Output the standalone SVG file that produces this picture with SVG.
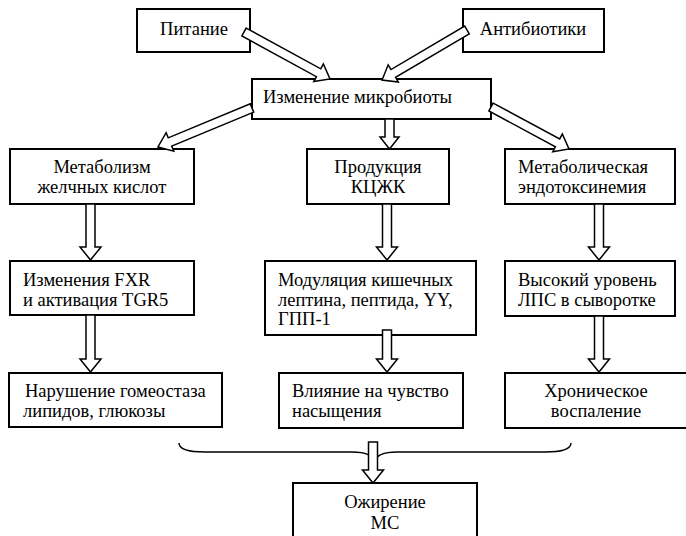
<svg xmlns="http://www.w3.org/2000/svg" width="686" height="536" viewBox="0 0 686 536">
<style>
.box{fill:#fff;stroke:#000;stroke-width:2}
.arr{fill:#fff;stroke:#000;stroke-width:1.5;stroke-linejoin:miter}
.brace{fill:none;stroke:#000;stroke-width:1.5}
.t{font-family:'Times New Roman','Liberation Serif','DejaVu Serif',serif;font-size:18.5px;fill:#000}
.c{text-anchor:middle}
</style>
<rect width="686" height="536" fill="#fff"/>
<g class="t" font-family="'Times New Roman','Liberation Serif','DejaVu Serif',serif">
<g id="n-pitanie"><rect class="box" x="137" y="9" width="113" height="43"/><text class="c" x="194" y="35">Питание</text></g>
<g id="n-antibiotiki"><rect class="box" x="463" y="9" width="141" height="43"/><text class="c" x="533" y="35">Антибиотики</text></g>
<g id="n-microbiota"><rect class="box" x="252" y="79" width="239" height="40"/><text x="263" y="103">Изменение микробиоты</text></g>

<g id="n-bile"><rect class="box" x="10" y="149" width="184" height="55"/><text class="c" x="102" y="173">Метаболизм</text><text class="c" x="102" y="193">желчных кислот</text></g>
<g id="n-scfa"><rect class="box" x="307" y="149" width="142" height="55"/><text class="c" x="378" y="173">Продукция</text><text class="c" x="378" y="193">КЦЖК</text></g>
<g id="n-endotox"><rect class="box" x="505" y="149" width="170" height="55"/><text x="518" y="173">Метаболическая</text><text x="518" y="193">эндотоксинемия</text></g>

<g id="n-fxr"><rect class="box" x="10" y="261" width="184" height="54"/><text x="23" y="286">Изменения FXR</text><text x="23" y="306">и активация TGR5</text></g>
<g id="n-modul"><rect class="box" x="265" y="261" width="211" height="74"/><text x="278" y="286">Модуляция кишечных</text><text x="278" y="306">лептина, пептида, YY,</text><text x="278" y="325">ГПП-1</text></g>
<g id="n-lps"><rect class="box" x="505" y="261" width="170" height="55"/><text x="518" y="286">Высокий уровень</text><text x="518" y="306">ЛПС в сыворотке</text></g>

<g id="n-homeo"><rect class="box" x="9" y="373" width="213" height="54"/><text x="25" y="397">Нарушение гомеостаза</text><text x="23" y="417">липидов, глюкозы</text></g>
<g id="n-satiety"><rect class="box" x="279" y="373" width="184" height="55"/><text x="292" y="397">Влияние на чувство</text><text x="292" y="417">насыщения</text></g>
<g id="n-inflam"><rect class="box" x="505" y="373" width="190" height="55"/><text class="c" x="596" y="397">Хроническое</text><text class="c" x="596" y="417">воспаление</text></g>

<g id="n-obesity"><rect class="box" x="293" y="483" width="184" height="60"/><text class="c" x="385" y="508">Ожирение</text><text class="c" x="385" y="529">МС</text></g>
</g>
<g id="connectors">
<path class="brace" d="M179,443 C179,450 190,452 205,452 L352,452 C366,452 373,455 374,462 C376,455 383,452 397,452 L545,452 C560,452 571,450 571,443"/>
<polygon class="arr" transform="translate(244,32) rotate(28.65)" points="0,-4.5 85,-4.5 85,-10 98,0 85,10 85,4.5 0,4.5"/>
<polygon class="arr" transform="translate(467,30) rotate(149.5)" points="0,-4.5 85.6,-4.5 85.6,-10 98.6,0 85.6,10 85.6,4.5 0,4.5"/>
<polygon class="arr" transform="translate(252,108) rotate(157.5)" points="0,-4.5 88.8,-4.5 88.8,-10 101.8,0 88.8,10 88.8,4.5 0,4.5"/>
<polygon class="arr" transform="translate(491,107) rotate(28.3)" points="0,-4.5 75.6,-4.5 75.6,-10 88.6,0 75.6,10 75.6,4.5 0,4.5"/>
<polygon class="arr" points="385,119 394,119 394,137 399,137 389.5,149 380,137 385,137"/>
<polygon class="arr" points="86,204 95,204 95,247 101,247 90.5,260 80,247 86,247"/>
<polygon class="arr" points="382.5,204 391.5,204 391.5,247 397.5,247 387,260 376.5,247 382.5,247"/>
<polygon class="arr" points="594.5,204 603.5,204 603.5,247 609.5,247 599,260 588.5,247 594.5,247"/>
<polygon class="arr" points="86,315 95,315 95,359 101,359 90.5,372 80,359 86,359"/>
<polygon class="arr" points="382.5,330 391.5,330 391.5,359 397.5,359 387,372 376.5,359 382.5,359"/>
<polygon class="arr" points="594.5,316 603.5,316 603.5,359 609.5,359 599,372 588.5,359 594.5,359"/>
<polygon class="arr" points="368.5,442 377.5,442 377.5,470 383.5,470 373,483 362.5,470 368.5,470"/>
</g>
</svg>
